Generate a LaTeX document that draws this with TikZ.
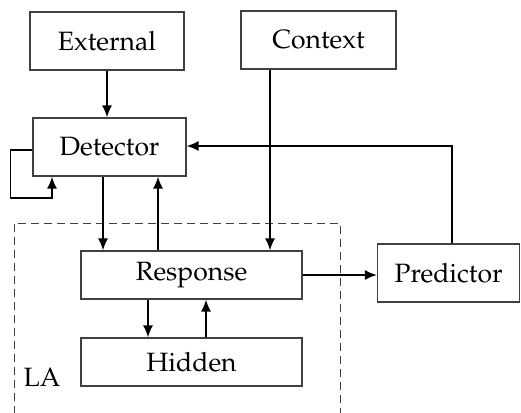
\documentclass[tikz,border=0pt]{standalone}
\usepackage[T1]{fontenc}
\usepackage{mathpazo}
\usetikzlibrary{arrows.meta}

\tikzset{
  txt/.style={font=\fontsize{26.5}{31}\selectfont},
  blk/.style={txt, draw=black!75, line width=1.1pt, inner sep=0pt},
  arr/.style={line width=1.7pt, -{Latex[length=12pt,width=10pt]}},
  frame/.style={draw=black!75, line width=1pt, dash pattern=on 8pt off 5pt},
}

\begin{document}
\begin{tikzpicture}[x=1pt,y=-1pt]
  \useasboundingbox (0,0) rectangle (521,412);

  % dashed boundary of the LA block (open at the bottom)
  \coordinate (fa) at (14,414);
  \coordinate (fb) at (14,223);
  \coordinate (fc) at (340,223);
  \coordinate (fd) at (340,414);
  \draw[frame] (fa) -- (fb) -- (fc) -- (fd);
  \node[txt] (la) at (42,377) {LA};

  % blocks
  \node[blk, minimum width=154pt, minimum height=58pt] (ext) at (107,41) {External};
  \node[blk, minimum width=155pt, minimum height=58pt] (ctx) at (318.5,40) {Context};
  \node[blk, minimum width=153pt, minimum height=58pt] (det) at (109.5,147) {Detector};
  \node[blk, minimum width=221pt, minimum height=48pt] (rsp) at (191.5,275) {Response};
  \node[blk, minimum width=221pt, minimum height=48pt] (hid) at (191.5,362) {Hidden};
  \node[blk, minimum width=142pt, minimum height=58pt] (prd) at (448.5,273) {Predictor};

  % connectors
  \draw[arr] (ext.south) -- (ext.south |- det.north);
  \draw[arr] ([xshift=-48.5pt]ctx.south) -- ([xshift=-48.5pt]ctx.south |- rsp.north);
  \draw[arr] ([xshift=-6.5pt]det.south) -- ([xshift=-6.5pt]det.south |- rsp.north);
  \draw[arr] ([xshift=48.5pt]det.south |- rsp.north) -- ([xshift=48.5pt]det.south);
  \draw[arr] ([yshift=-3pt]det.west) -| ++(-22,48) -| ([xshift=-57.5pt]det.south);
  \draw[arr] ([xshift=3.5pt]prd.north) |- ([yshift=1pt]det.east);
  \draw[arr] (rsp.east) -- (rsp.east -| prd.west);
  \draw[arr] ([xshift=-43.5pt]rsp.south) -- ([xshift=-43.5pt]rsp.south |- hid.north);
  \draw[arr] ([xshift=14.5pt]hid.north) -- ([xshift=14.5pt]hid.north |- rsp.south);
\end{tikzpicture}
\end{document}
